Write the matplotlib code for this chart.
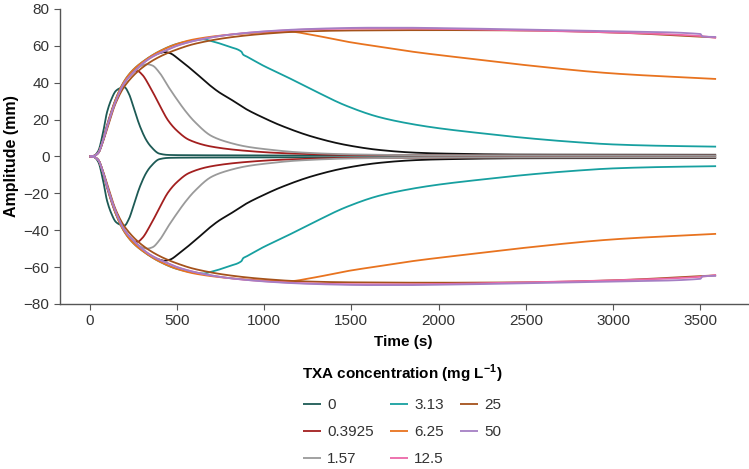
import numpy as np
import matplotlib
matplotlib.use("Agg")
import matplotlib.pyplot as plt

plt.rcParams['font.family'] = ['Liberation Sans', 'DejaVu Sans']
plt.rcParams['mathtext.fontset'] = 'custom'
plt.rcParams['mathtext.rm'] = 'Liberation Sans'
plt.rcParams['mathtext.bf'] = 'Liberation Sans:bold'

# ---- data (upper amplitude; lower trace is the mirror image) ----
t_0 = [0, 25, 50, 75, 100, 125, 150, 175, 200, 225, 257, 290, 324, 350, 400, 450, 500, 700, 1000, 2000, 3000, 3590]
a_0 = [0, 0.3, 3, 12, 24, 31, 35.5, 37, 37.5, 34, 25, 16, 9, 5.5, 1.5, 0.8, 0.7, 0.6, 0.5, 0.5, 0.5, 0.5]

t_03925 = [0, 25, 50, 75, 100, 150, 200, 250, 275, 300, 350, 400, 450, 500, 570, 700, 900, 1100, 1500, 2500, 3590]
a_03925 = [0, 0.3, 2, 8, 17, 31, 40.5, 46, 46.3, 44.5, 37, 28, 19.5, 14, 9, 5.3, 3, 1.8, 0.8, 0.5, 0.5]

t_157 = [0, 25, 50, 75, 100, 150, 200, 250, 300, 330, 360, 400, 450, 500, 550, 600, 700, 800, 900, 1000, 1200, 1500, 2000, 3590]
a_157 = [0, 0.3, 2, 8, 16, 30, 40, 45.5, 49.3, 50, 49.3, 45.5, 38, 31, 24.5, 19, 11, 7.5, 5.3, 4, 2.2, 1.1, 0.6, 0.5]

t_unl = [0, 25, 50, 75, 100, 150, 200, 250, 300, 350, 400, 430, 460, 514, 611, 690, 745, 800, 900, 1000, 1090, 1280, 1470, 1660, 1850, 2000, 2500, 3590]
a_unl = [0, 0.3, 2, 8, 16, 30, 40, 46, 50.5, 54, 56, 56.6, 56, 52.5, 45, 38.5, 34.6, 31.5, 25.5, 20.8, 17, 10.6, 6.2, 3.5, 2.1, 1.6, 1.0, 0.9]

t_313 = [0, 25, 50, 75, 100, 150, 200, 250, 300, 400, 500, 600, 650, 700, 800, 870, 880, 900, 1000, 1090, 1280, 1470, 1660, 1850, 2000, 2250, 2500, 2750, 3000, 3250, 3590]
a_313 = [0, 0.3, 2, 8, 16, 31, 41, 47, 51, 57, 61, 63, 63.5, 62.5, 59.5, 56.8, 55.2, 54.2, 49, 45, 36, 27.5, 21.3, 17.5, 15.3, 12.5, 10, 8, 6.5, 5.8, 5.3]

t_625 = [0, 25, 50, 75, 100, 150, 200, 250, 300, 400, 500, 600, 800, 1000, 1140, 1280, 1470, 1660, 1850, 2000, 2230, 2500, 3000, 3590]
a_625 = [0, 0.3, 2, 8, 16, 31, 41, 47, 51, 57, 61, 63.5, 66, 67.3, 67.7, 65.8, 62.3, 59.5, 56.8, 55, 52.5, 49.5, 45, 42]

t_125 = [0, 25, 50, 75, 100, 150, 200, 250, 300, 350, 400, 450, 500, 600, 700, 800, 900, 1000, 1200, 1400, 1600, 1800, 2000, 2500, 3000, 3500, 3590]
a_125 = [0, 0.3, 2, 8, 16, 30, 40, 45.5, 50, 53.5, 56, 58, 60, 62.7, 64.6, 66, 67, 67.7, 68.7, 69.2, 69.4, 69.4, 69.2, 68.3, 67.2, 65.3, 64.3]

t_25 = [0, 25, 50, 75, 100, 150, 200, 300, 400, 500, 600, 800, 1000, 1200, 1500, 2000, 2500, 3000, 3590]
a_25 = [0, 0.3, 2, 7.5, 15, 29, 38, 48, 54, 58, 61, 64.5, 66.5, 67.7, 68.3, 68.5, 68.3, 67.2, 64.5]

t_50 = [0, 25, 50, 75, 100, 150, 200, 250, 300, 350, 400, 450, 500, 600, 700, 800, 900, 1000, 1200, 1400, 1600, 1800, 2000, 2500, 3000, 3500, 3512, 3590]
a_50 = [0, 0.3, 2, 8, 16, 30, 40, 45.5, 50, 53.5, 56, 58, 60, 62.7, 64.6, 66, 67, 67.8, 68.9, 69.5, 69.8, 69.8, 69.6, 68.8, 67.8, 66.4, 65.0, 64.8]

labels = ['0', '0.3925', '1.57', None, '3.13', '6.25', '12.5', '25', '50']
times = [t_0, t_03925, t_157, t_unl, t_313, t_625, t_125, t_25, t_50]
amps = [a_0, a_03925, a_157, a_unl, a_313, a_625, a_125, a_25, a_50]
colors = ['#1d5a55', '#a31f1f', '#9a9a9a', '#111111', '#17a0a0', '#e8731f', '#ec68a8', '#a5521b', '#a57fc4']


def pchip(x, y, xn):
    x = np.asarray(x, float); y = np.asarray(y, float)
    h = np.diff(x); d = np.diff(y) / h
    m = np.zeros_like(y)
    for k in range(1, len(x) - 1):
        if d[k - 1] * d[k] > 0:
            w1 = 2 * h[k] + h[k - 1]; w2 = h[k] + 2 * h[k - 1]
            m[k] = (w1 + w2) / (w1 / d[k - 1] + w2 / d[k])
    m[0] = d[0]; m[-1] = d[-1]
    idx = np.clip(np.searchsorted(x, xn) - 1, 0, len(x) - 2)
    hh = h[idx]; s = (xn - x[idx]) / hh
    h00 = 2 * s**3 - 3 * s**2 + 1; h10 = s**3 - 2 * s**2 + s
    h01 = -2 * s**3 + 3 * s**2; h11 = s**3 - s**2
    return h00 * y[idx] + h10 * hh * m[idx] + h01 * y[idx + 1] + h11 * hh * m[idx + 1]


fig = plt.figure(figsize=(7.49, 4.69), dpi=100)
ax = fig.add_axes([0.080, 0.352, 0.918, 0.629])

order = [3, 0, 1, 2, 4, 5, 7, 6, 8]
handles = {}
for i in order:
    tt = np.linspace(times[i][0], times[i][-1], 1500)
    yy = pchip(times[i], amps[i], tt)
    ln, = ax.plot(tt, yy, color=colors[i], lw=1.3, solid_capstyle='butt')
    ax.plot(tt, -yy, color=colors[i], lw=1.3, solid_capstyle='butt')
    handles[i] = ln

ax.set_xlim(-170, 3770)
ax.set_ylim(-80, 80)
ax.set_xticks(np.arange(0, 3501, 500))
ax.set_yticks(np.arange(-80, 81, 20))
for s in ['top', 'right']:
    ax.spines[s].set_visible(False)
for s in ['left', 'bottom']:
    ax.spines[s].set_color('#555555')
    ax.spines[s].set_linewidth(1.0)
ax.tick_params(direction='out', length=4, color='#555555', labelsize=11, labelcolor='#333333')
ax.set_xlabel('Time (s)', fontsize=11, fontweight='bold', labelpad=5)
ax.set_ylabel('Amplitude (mm)', fontsize=11.5, fontweight='bold', labelpad=3)

leg_idx = [0, 1, 2, 4, 5, 6, 7, 8]
leg = fig.legend([handles[i] for i in leg_idx], [labels[i] for i in leg_idx],
                 loc='upper center', bbox_to_anchor=(0.537, 0.256), ncol=3,
                 frameon=False, fontsize=11, handlelength=1.15, handletextpad=0.4,
                 columnspacing=1.1, labelspacing=0.85,
                 title=r'TXA concentration (mg L$^{\mathbf{-1}}$)',
                 title_fontproperties={'weight': 'bold', 'size': 11})
for t in leg.get_texts():
    t.set_color('#333333')

fig.savefig('out.png', dpi=100)
